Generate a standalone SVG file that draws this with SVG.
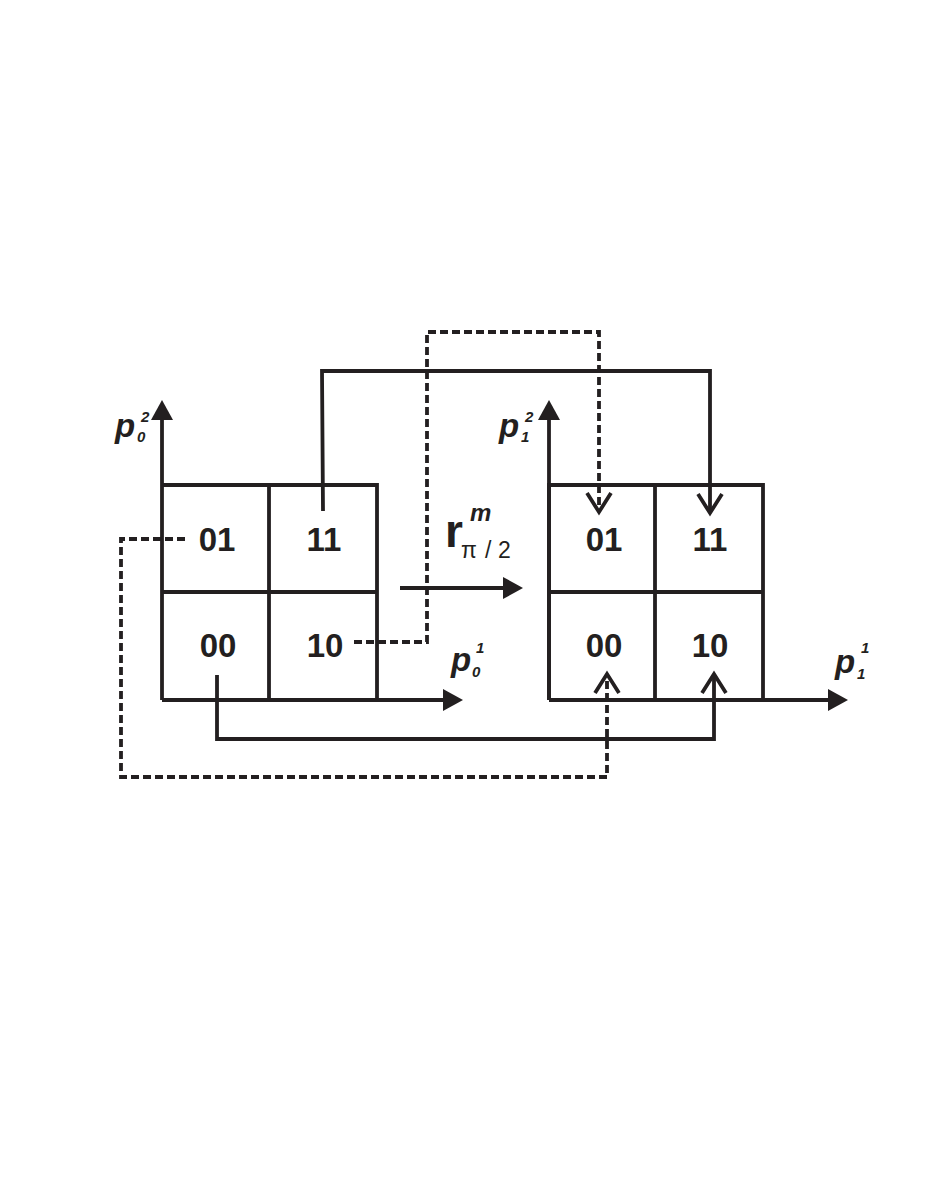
<svg xmlns="http://www.w3.org/2000/svg" width="926" height="1199" viewBox="0 0 926 1199">
<style>
.ln{fill:none;stroke:#231f20;stroke-width:3.8;stroke-linecap:butt;stroke-linejoin:miter}
.dash{stroke-dasharray:8 4}
.cell{font-family:"Liberation Sans",Arial,sans-serif;font-weight:bold;font-size:33px;fill:#231f20;text-anchor:middle}
.ax{font-family:"Liberation Sans",Arial,sans-serif;font-weight:bold;font-style:italic;font-size:33px;fill:#231f20}
.idx{font-family:"Liberation Sans",Arial,sans-serif;font-weight:bold;font-style:italic;font-size:15px;fill:#231f20}
</style>
<defs>
<marker id="tri" markerUnits="userSpaceOnUse" markerWidth="20" markerHeight="22" refX="0" refY="11" orient="auto" overflow="visible">
<path d="M0,0 L20,11 L0,22 z" fill="#231f20"/>
</marker>
<marker id="open" markerUnits="userSpaceOnUse" markerWidth="20" markerHeight="24" refX="19" refY="12" orient="auto" overflow="visible">
<path d="M0,0 L19,12 L0,24" fill="none" stroke="#231f20" stroke-width="3.8" stroke-dasharray="none"/>
</marker>
</defs>
<rect width="926" height="1199" fill="#ffffff"/>

<g id="grid-left">
<path class="ln" d="M162,485 L377,485 L377,700 M162,592 L377,592 M269,485 L269,700"/>
<path class="ln" d="M162,700 L162,420" marker-end="url(#tri)"/>
<path class="ln" d="M162,700 L443,700" marker-end="url(#tri)"/>
<text class="ax" x="115" y="437">p</text>
<text class="idx" x="137" y="442">0</text>
<text class="idx" x="141" y="422">2</text>
<text class="ax" x="451" y="671">p</text>
<text class="idx" x="472" y="677">0</text>
<text class="idx" x="476" y="653">1</text>
</g>
<g id="cell-left-01"><text class="cell" x="217" y="551">01</text></g>
<g id="cell-left-11"><text class="cell" x="324" y="551">11</text></g>
<g id="cell-left-00"><text class="cell" x="218" y="657">00</text></g>
<g id="cell-left-10"><text class="cell" x="325" y="657">10</text></g>

<g id="grid-right">
<path class="ln" d="M549,700 L549,485 L763,485 L763,700 M549,592 L763,592 M655,485 L655,700"/>
<path class="ln" d="M549,700 L549,420" marker-end="url(#tri)"/>
<path class="ln" d="M549,700 L828,700" marker-end="url(#tri)"/>
<text class="ax" x="499" y="437">p</text>
<text class="idx" x="521" y="442">1</text>
<text class="idx" x="525" y="422">2</text>
<text class="ax" x="835" y="673">p</text>
<text class="idx" x="857" y="679">1</text>
<text class="idx" x="861" y="653">1</text>
</g>
<g id="cell-right-01"><text class="cell" x="604" y="551">01</text></g>
<g id="cell-right-11"><text class="cell" x="710" y="551">11</text></g>
<g id="cell-right-00"><text class="cell" x="604" y="657">00</text></g>
<g id="cell-right-10"><text class="cell" x="710" y="657">10</text></g>

<g id="transform">
<path class="ln" d="M400,588 L503,588" marker-end="url(#tri)"/>
<text x="445" y="547" font-family="'Liberation Sans',Arial,sans-serif" font-weight="bold" font-size="46" fill="#231f20">r</text>
<text x="470" y="521" font-family="'Liberation Sans',Arial,sans-serif" font-weight="bold" font-style="italic" font-size="24" fill="#231f20">m</text>
<text y="558" font-family="'Liberation Sans',Arial,sans-serif" font-size="23" fill="#231f20"><tspan x="461">π</tspan><tspan x="485">/</tspan><tspan x="498">2</tspan></text>
</g>

<g id="connectors">
<path class="ln" d="M323,511 L322,371 L710,371 L710,513" marker-end="url(#open)"/>
<path class="ln dash" d="M354,642 L427,642 L427,332 L599,332 L599,512" marker-end="url(#open)"/>
<path class="ln" d="M217,675 L217,739 L714,739 L714,674" marker-end="url(#open)"/>
<path class="ln dash" d="M185,539 L121,539 L121,777 L607,777 L607,674" marker-end="url(#open)"/>
</g>
</svg>
